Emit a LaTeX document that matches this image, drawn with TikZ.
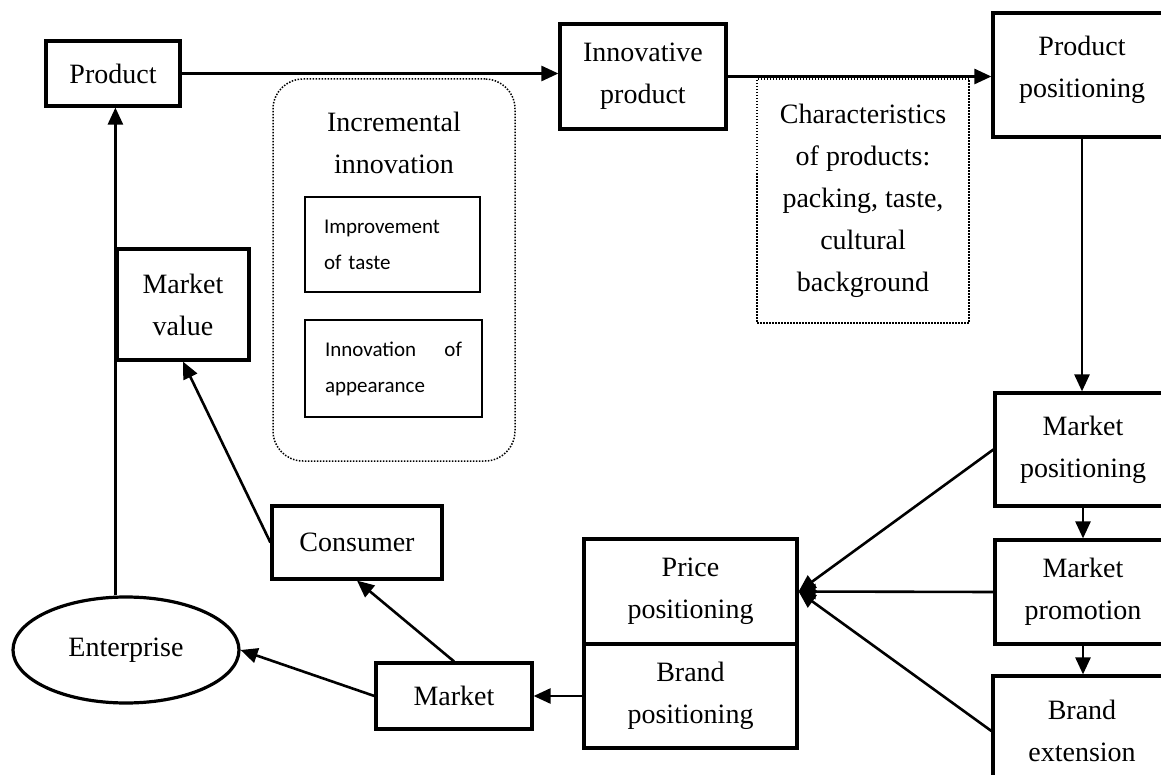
\documentclass[tikz,border=0pt]{standalone}
\usepackage{fontspec}
\setmainfont{Liberation Serif}
\newfontfamily\calibri{Carlito}
\usetikzlibrary{shapes.geometric, arrows.meta, positioning}
\tikzset{
	box/.style={
		draw,
		line width=3.2pt,
		align=center,
		inner sep=0pt
	},
	dotbox/.style={
		draw,
		line width=1.5pt,
		dash pattern=on 1.5pt off 1.5pt,
		align=center,
		inner sep=0pt
	},
	smallbox/.style={
		draw,
		line width=2.8pt,
		inner sep=0pt,
		text width=137pt,
		align=left,
		font=\calibri\fontsize{21}{36}\selectfont
	},
	link/.style={
		line width=2.6pt,
		-{Triangle[length=17pt,width=15pt]}
	}
}

\begin{document}
\begin{tikzpicture}[x=1pt, y=-1pt, font=\fontsize{28}{42}\selectfont]
		\useasboundingbox (0,0) rectangle (1161,775);
		
		\node (prod) [box, minimum width=134pt, minimum height=65pt] at (113,73.5) {Product};
		\node (innov) [box, minimum width=166pt, minimum height=105pt] at (643,76.5) {Innovative\\product};
		\node (prodpos) [box, minimum width=178pt, minimum height=124pt] at (1082,75) {\raisebox{7pt}[\height][\depth]{\begin{tabular}{@{}c@{}}Product\\positioning\end{tabular}}};
		
		\node (incr) [dotbox, rounded corners=30pt, minimum width=242pt, minimum height=382pt] at (394,270) {};
		\node (incrtitle) [align=center] at (394,143) {Incremental\\innovation};
		\node (improve) [smallbox, minimum width=175pt, minimum height=95pt] at (392.5,244.5) {Improvement\\of taste};
		\node (appear) [smallbox, minimum width=177pt, minimum height=97pt] at (393.5,368.5) {Innovation\hfill of\\appearance};
		
		\node (charac) [dotbox, minimum width=212pt, minimum height=244pt] at (863,201) {Characteristics\\of products:\\packing, taste,\\cultural\\background};
		
		\node (mktval) [box, minimum width=132pt, minimum height=111pt] at (183,304.5) {Market\\value};
		\node (mktpos) [box, minimum width=176pt, minimum height=113pt] at (1083,449.5) {Market\\positioning};
		\node (mktpro) [box, minimum width=176pt, minimum height=104pt] at (1083,592) {Market\\promotion};
		\node (brandext) [box, minimum width=178pt, minimum height=110pt] at (1082,731) {Brand\\extension};
		\node (price) [box, minimum width=213pt, minimum height=105pt] at (690.5,591.5) {Price\\positioning};
		\node (brand) [box, minimum width=213pt, minimum height=104pt] at (690.5,696) {Brand\\positioning};
		\node (market) [box, minimum width=156pt, minimum height=66pt] at (454,696) {Market};
		\node (consumer) [box, minimum width=170pt, minimum height=73pt] at (357,542.5) {Consumer};
		\node (enterprise) [box, ellipse, minimum width=226pt, minimum height=106pt] at (126,650) {Enterprise};
		
		\draw [link] (prod.east) -- (prod.east -| innov.west);
		\draw [link] (innov.east) -- (innov.east -| prodpos.west);
		\draw [link] (prodpos.south) -- (prodpos.south |- mktpos.north);
		\draw [link] (mktpos.south) -- (mktpos.south |- mktpro.north);
		\draw [link] (mktpro.south) -- (mktpro.south |- brandext.north);
		\foreach \src in {mktpos, mktpro, brandext}
			\draw [link] (\src.west) -- (price.east);
		\draw [link] (brand.west) -- (market.east);
		\draw [link] (market.north) -- (consumer.south);
		\draw [link] (market.west) -- (enterprise.east);
		\draw [link] (consumer.west) -- (mktval.south);
		\draw [link] (enterprise.north -| mktval.west) -- (mktval.west |- prod.south);
\end{tikzpicture}
\end{document}
